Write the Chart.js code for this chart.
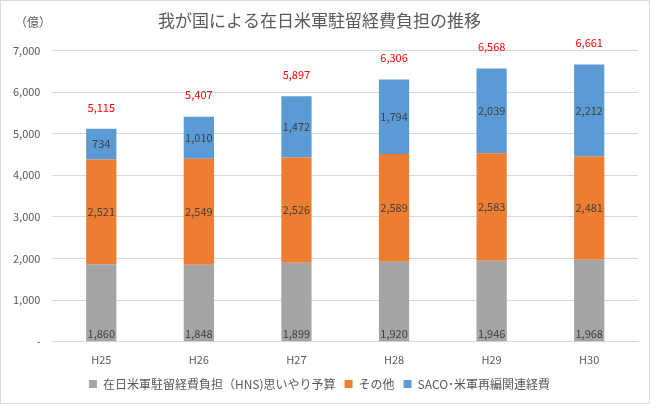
<!DOCTYPE html>
<html>
<head>
<meta charset="utf-8">
<script src="https://cdn.jsdelivr.net/npm/chart.js@4/dist/chart.umd.min.js"></script>
<style>
  html, body { margin: 0; padding: 0; background: #fff; }
  #wrap { position: relative; width: 648px; height: 402px; border: 1px solid #d9d9d9; }
</style>
</head>
<body>
<div id="wrap"><canvas id="chart" width="648" height="402"></canvas></div>
<script>
var years = ['H25', 'H26', 'H27', 'H28', 'H29', 'H30'];
var hns = [1860, 1848, 1899, 1920, 1946, 1968];
var other = [2521, 2549, 2526, 2589, 2583, 2481];
var saco = [734, 1010, 1472, 1794, 2039, 2212];
var totals = [5115, 5407, 5897, 6306, 6568, 6661];

var seriesNames = ['在日米軍駐留経費負担（HNS)思いやり予算', 'その他', 'SACO･米軍再編関連経費'];
var colors = ['#a5a5a5', '#ed7d31', '#5b9bd5'];
var textColor = '#595959';
var jpFont = '"Noto Sans CJK JP", "Noto Sans", sans-serif';

function fmt(v) {
    return v.toLocaleString('en-US');
}

// labels inside the bars and totals above them
var labelPlugin = {
    id: 'barLabels',
    afterDatasetsDraw: function(chart) {
        var ctx = chart.ctx;
        ctx.save();
        ctx.font = '11px ' + jpFont;
        ctx.textAlign = 'center';
        ctx.fillStyle = '#404040';
        chart.data.datasets.forEach(function(ds, di) {
            var meta = chart.getDatasetMeta(di);
            meta.data.forEach(function(bar, i) {
                var y;
                if (di === 0) {
                    ctx.textBaseline = 'bottom';
                    y = bar.base - 2;
                } else {
                    ctx.textBaseline = 'middle';
                    y = (bar.y + bar.base) / 2;
                }
                ctx.fillText(fmt(ds.data[i]), bar.x, y);
            });
        });
        var topMeta = chart.getDatasetMeta(2);
        var yScale = chart.scales.y;
        ctx.fillStyle = '#ff0000';
        ctx.textBaseline = 'bottom';
        topMeta.data.forEach(function(bar, i) {
            ctx.fillText(fmt(totals[i]), bar.x, yScale.getPixelForValue(totals[i]) - 16);
        });
        // unit label
        ctx.fillStyle = textColor;
        ctx.textAlign = 'left';
        ctx.textBaseline = 'middle';
        ctx.font = '12px ' + jpFont;
        ctx.fillText('（億）', 14, 21);
        ctx.restore();
    }
};

var ctx = document.getElementById('chart');

var barGraph = new Chart(ctx, {
    type: 'bar',
    data: {
        labels: years,
        datasets: [
            { label: seriesNames[0], data: hns, backgroundColor: colors[0] },
            { label: seriesNames[1], data: other, backgroundColor: colors[1] },
            { label: seriesNames[2], data: saco, backgroundColor: colors[2] }
        ]
    },
    options: {
        responsive: false,
        animation: false,
        layout: { padding: { left: 0, right: 11, top: 0, bottom: 3 } },
        datasets: {
            bar: { barPercentage: 0.31, categoryPercentage: 1.0 }
        },
        scales: {
            x: {
                stacked: true,
                grid: { display: false },
                border: { color: '#d9d9d9' },
                ticks: { color: textColor, font: { size: 11, family: jpFont }, padding: 3 }
            },
            y: {
                stacked: true,
                min: 0,
                max: 7000,
                grid: { color: '#d9d9d9', drawTicks: false },
                border: { display: false },
                ticks: {
                    stepSize: 1000,
                    color: textColor,
                    padding: 12,
                    font: { size: 11, family: jpFont },
                    callback: function(v) { return v === 0 ? '-' : fmt(v); }
                }
            }
        },
        plugins: {
            title: {
                display: true,
                text: '我が国による在日米軍駐留経費負担の推移',
                color: textColor,
                font: { size: 17, weight: 'normal', family: jpFont },
                padding: { top: 9, bottom: 20 }
            },
            legend: {
                position: 'bottom',
                labels: {
                    color: textColor,
                    boxWidth: 8,
                    boxHeight: 8,
                    padding: 9,
                    font: { size: 12, family: jpFont }
                }
            },
            tooltip: { enabled: false }
        }
    },
    plugins: [labelPlugin]
});
</script>
</body>
</html>
